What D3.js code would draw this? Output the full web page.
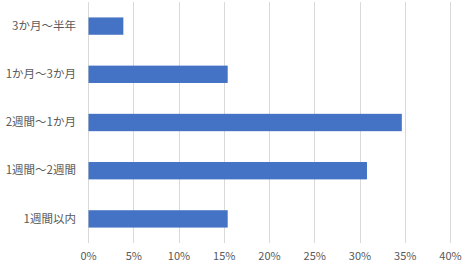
<!DOCTYPE html>
<html>
<head>
<meta charset="utf-8">
<script src="https://cdn.jsdelivr.net/npm/d3@7"></script>
<style>
  body { margin: 0; background: #fff; }
  svg { display: block; font-family: 'Noto Sans CJK JP', 'Noto Sans', sans-serif; }
  .tick text { fill: #595959; }
</style>
</head>
<body>
<div id="chart"></div>
<script>
// categories, top to bottom
const categories = ['3か月〜半年', '1か月〜3か月', '2週間〜1か月', '1週間〜2週間', '1週間以内'];
// share of answers (%)
const values = [3.85, 15.38, 34.62, 30.77, 15.38];
const xTicks = [0, 5, 10, 15, 20, 25, 30, 35, 40];

const width = 470;
const height = 269;
const margin = { t: 2, r: 20, b: 26, l: 88 };

const svg = d3
  .select('#chart')
  .append('svg')
  .attr('width', width)
  .attr('height', height);

const xScale = d3.scaleLinear().domain([0, 40]).range([margin.l, width - margin.r]);
const yScale = d3
  .scaleBand()
  .domain(categories)
  .range([margin.t, height - margin.b])
  .paddingInner(0.64)
  .paddingOuter(0.32);

// vertical gridlines
svg
  .append('g')
  .selectAll('line')
  .data(xTicks)
  .join('line')
  .attr('x1', (d) => Math.round(xScale(d)) + 0.5)
  .attr('x2', (d) => Math.round(xScale(d)) + 0.5)
  .attr('y1', margin.t)
  .attr('y2', height - margin.b)
  .attr('stroke', '#d9d9d9')
  .attr('stroke-width', 1);

// bars
svg
  .append('g')
  .selectAll('rect')
  .data(values)
  .join('rect')
  .attr('x', xScale(0) + 0.5)
  .attr('y', (d, i) => yScale(categories[i]))
  .attr('width', (d) => xScale(d) - xScale(0))
  .attr('height', yScale.bandwidth())
  .attr('fill', '#4472c4');

// x axis labels
const xAxis = d3
  .axisBottom(xScale)
  .tickValues(xTicks)
  .tickFormat((d) => `${d}%`)
  .tickSize(0)
  .tickPadding(9);

svg
  .append('g')
  .attr('transform', `translate(0, ${height - margin.b})`)
  .call(xAxis)
  .call((g) => g.select('.domain').remove())
  .selectAll('text')
  .style('font-size', '11px')
  .style('font-family', "'Noto Sans CJK JP', sans-serif");

// category labels
const yAxis = d3.axisLeft(yScale).tickSize(0).tickPadding(12);

svg
  .append('g')
  .attr('transform', `translate(${margin.l}, 0)`)
  .call(yAxis)
  .call((g) => g.select('.domain').remove())
  .selectAll('text')
  .style('font-size', '11.5px')
  .style('font-family', "'Noto Sans CJK JP', sans-serif");
</script>
</body>
</html>
